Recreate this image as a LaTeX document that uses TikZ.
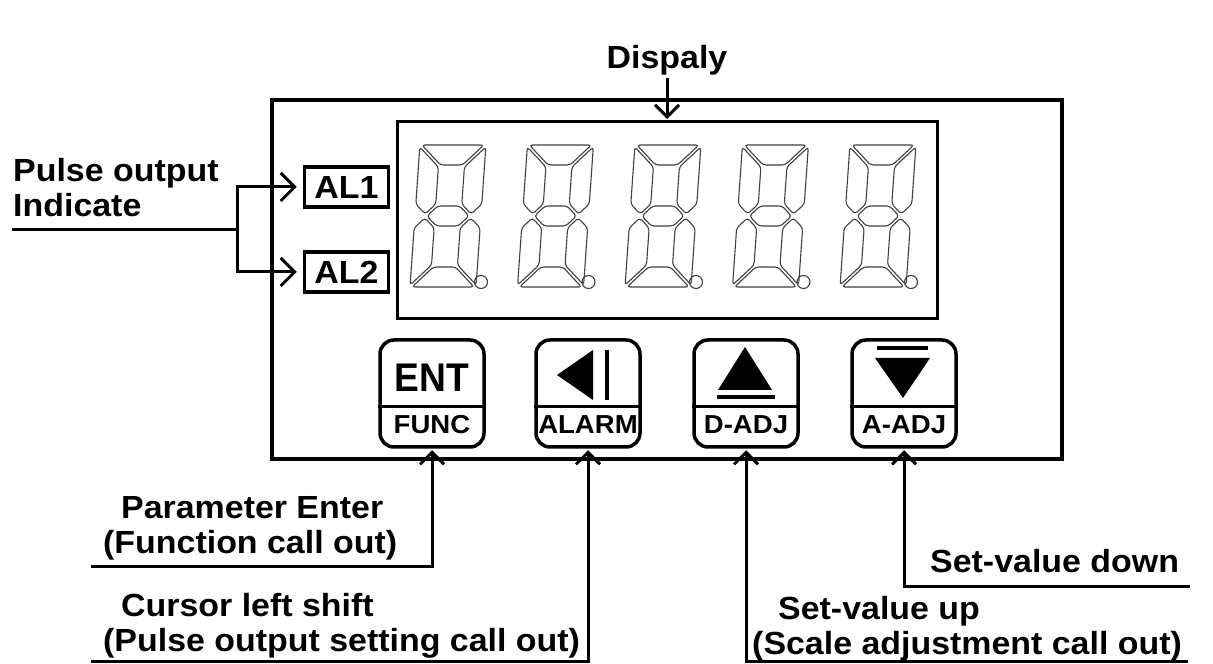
\documentclass[tikz,border=0pt]{standalone}
\usepackage{fontspec}
\setmainfont{Liberation Sans}[FakeStretch=1.06]
\newfontfamily\keyfont{Liberation Sans}[FakeStretch=0.93]
\usetikzlibrary{arrows.meta}

\begin{document}
\begin{tikzpicture}[x=1pt, y=1pt,
  lbl/.style={font=\bfseries\fontsize{32}{35}\selectfont, inner sep=0pt, align=left},
  almark/.style={draw, line width=3.5pt, minimum width=84pt, minimum height=40pt,
    inner sep=0pt, font=\bfseries\fontsize{32}{32}\selectfont},
  keycap/.style={draw, line width=3.5pt, rounded corners=14pt,
    minimum width=104pt, minimum height=107pt},
  keytop/.style={font=\keyfont\bfseries\fontsize{40}{40}\selectfont, inner sep=0pt},
  keysub/.style={font=\bfseries\fontsize{26}{26}\selectfont, inner sep=0pt},
  seg/.style={draw=black!75, line width=1.1pt, rounded corners=3pt},
  lead/.style={line width=3pt},
  arr/.style={lead, -{Straight Barb[length=12pt, width=24pt]}, shorten >=1.5pt},
  bigarr/.style={lead, -{Straight Barb[length=14pt, width=28pt]}, shorten >=6pt},
]
  \useasboundingbox (0,0) rectangle (1213,664);

  % Panel and display window
  \node[draw, line width=4pt, minimum width=790pt, minimum height=359pt] (panel) at (667,384.5) {};
  \node[draw, line width=3pt, minimum width=540pt, minimum height=197pt] (screen) at (667,443.5) {};

  % Seven segment digits
  \foreach \dx in {410,517.5,625,732.5,840} {
    \begin{scope}[shift={(\dx,377)}, xslant=0.07]
      \draw[seg] (2,142) -- (64,142) -- (44,122) -- (22,122) -- cycle;
      \draw[seg] (66,140) -- (66,83) -- (56,73) -- (46,83) -- (46,120) -- cycle;
      \draw[seg] (66,2) -- (66,59) -- (56,69) -- (46,59) -- (46,22) -- cycle;
      \draw[seg] (2,0) -- (64,0) -- (44,20) -- (22,20) -- cycle;
      \draw[seg] (0,2) -- (0,59) -- (10,69) -- (20,59) -- (20,22) -- cycle;
      \draw[seg] (0,140) -- (0,83) -- (10,73) -- (20,83) -- (20,120) -- cycle;
      \draw[seg] (12,71) -- (22,81) -- (44,81) -- (54,71) -- (44,61) -- (22,61) -- cycle;
    \end{scope}
    \draw[seg] (\dx+71,382) circle (6.5);
  }

  % Pulse output indicators
  \node[almark] (al1) at (346.5,477) {AL1};
  \node[almark] (al2) at (346.5,392) {AL2};
  \node[lbl, anchor=north west] (pulsetxt) at (13,506) {Pulse output\\Indicate};
  \coordinate (pulsefeed) at (12,434);
  \coordinate (fork) at (237,434);
  \draw[lead] (pulsefeed) -- (fork);
  \draw[bigarr] (fork) |- (al1);
  \draw[bigarr] (fork) |- (al2);

  % Display label
  \node[lbl] (dispaly) at (667,604) {Dispaly};
  \draw[arr, shorten <=3pt] (dispaly) -- (screen.north);

  % Keys
  \node[keycap] (ent) at (432,270.5) {};
  \node[keycap] (alarm) at (588,270.5) {};
  \node[keycap] (dadj) at (746,270.5) {};
  \node[keycap] (aadj) at (904,270.5) {};
  \foreach \k in {ent,alarm,dadj,aadj}
    \draw[line width=3pt] ([yshift=-13.5pt]\k.west) -- ([yshift=-13.5pt]\k.east);

  \node[keytop] (enttop) at ([yshift=15.5pt]ent.center) {ENT};
  \node[keysub] (funclbl) at ([yshift=-31.5pt]ent.center) {FUNC};
  \node[keysub] (alarmlbl) at ([yshift=-31.5pt]alarm.center) {ALARM};
  \node[keysub] (dadjlbl) at ([yshift=-31.5pt]dadj.center) {D-ADJ};
  \node[keysub] (aadjlbl) at ([yshift=-31.5pt]aadj.center) {A-ADJ};

  \begin{scope}[shift={(alarm.center)}]
    \fill (-31,18.5) -- (5,43.5) -- (5,-6.5) -- cycle;
    \fill (17,-6.5) rectangle (21,43.5);
  \end{scope}
  \begin{scope}[shift={(dadj.center)}]
    \fill (-1,46.5) -- (26,3.5) -- (-28,3.5) -- cycle;
    \fill (-29,-5.5) rectangle (29,-1.5);
  \end{scope}
  \begin{scope}[shift={(aadj.center)}]
    \fill (-27,43.5) rectangle (24,47.5);
    \fill (-29,35.5) -- (26,35.5) -- (-1,-4.5) -- cycle;
  \end{scope}

  % Key call outs
  \coordinate (entfoot) at (91,97);
  \coordinate (alarmfoot) at (91,2);
  \coordinate (downfoot) at (1190,77);
  \coordinate (upfoot) at (1188,2);
  \draw[arr] (entfoot) -| (ent.south);
  \draw[arr] (alarmfoot) -| (alarm.south);
  \draw[arr] (upfoot) -| (dadj.south);
  \draw[arr] (downfoot) -| (aadj.south);

  \node[lbl, anchor=north west] (paramtxt) at (103,168) {\hspace*{18pt}Parameter Enter\\(Function call out)};
  \node[lbl, anchor=north west] (cursortxt) at (103,71) {\hspace*{18pt}Cursor left shift\\(Pulse output setting call out)};
  \node[lbl, anchor=base west] (downtxt) at (930,91) {Set-value down};
  \node[lbl, anchor=north west] (uptxt) at (752,68) {\hspace*{26pt}Set-value up\\(Scale adjustment call out)};
\end{tikzpicture}
\end{document}
